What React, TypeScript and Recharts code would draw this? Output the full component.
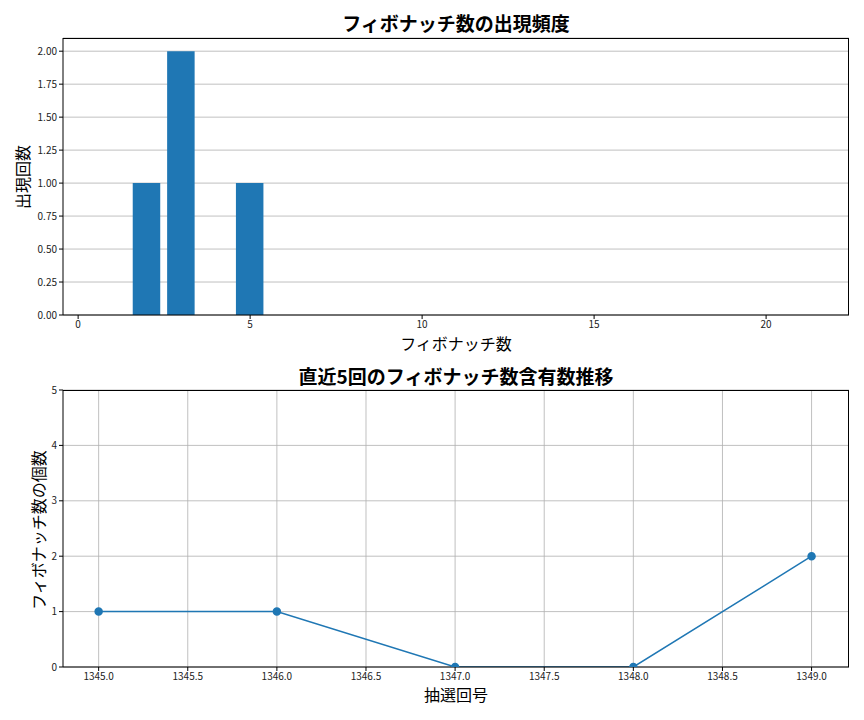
import {
  BarChart, Bar, LineChart, Line, XAxis, YAxis, CartesianGrid,
} from "recharts";

const fibNumbers = [1, 2, 3, 5, 8, 13, 21];
const fibCounts = [0, 1, 2, 1, 0, 0, 0];
const barTicksX = [0, 5, 10, 15, 20];
const barTicksY = [0, 0.25, 0.5, 0.75, 1, 1.25, 1.5, 1.75, 2];

const drawNumbers = [1345, 1346, 1347, 1348, 1349];
const fibPerDraw = [1, 1, 0, 0, 2];
const lineTicksX = [1345, 1345.5, 1346, 1346.5, 1347, 1347.5, 1348, 1348.5, 1349];
const lineTicksY = [0, 1, 2, 3, 4, 5];

const FONT = "'Noto Sans CJK JP', 'Noto Sans', sans-serif";
const BLUE = "#1f77b4";
const GRID = "#b0b0b0";

const barData = fibNumbers.map((n, i) => ({ n, count: fibCounts[i] }));
const lineData = drawNumbers.map((d, i) => ({ d, v: fibPerDraw[i] }));

const tickStyle = { fontSize: 10, fill: "#222", fontFamily: FONT };

const titleStyle = (top: number): React.CSSProperties => ({
  position: "absolute", top, left: 63, width: 786, textAlign: "center",
  fontSize: 19, fontWeight: "bold", fontFamily: FONT, lineHeight: "24px", color: "#000",
});

const labelStyle = (top: number): React.CSSProperties => ({
  position: "absolute", top, left: 63, width: 786, textAlign: "center",
  fontSize: 16, fontFamily: FONT, lineHeight: "20px", color: "#000",
});

const vLabelStyle = (cx: number, cy: number): React.CSSProperties => ({
  position: "absolute", left: cx - 100, top: cy - 11, width: 200, textAlign: "center",
  fontSize: 16, fontFamily: FONT, lineHeight: "22px", color: "#000",
  transform: "rotate(-90deg)",
});

// axes frame (matplotlib-style spines)
const frameStyle = (top: number): React.CSSProperties => ({
  position: "absolute", left: 63, top, width: 786, height: 277,
  boxSizing: "border-box", borderTop: "1px solid #000", borderRight: "1px solid #000",
  pointerEvents: "none",
});

export default function App() {
  return (
    <div style={{ position: "absolute", top: 0, left: 0, width: 864, height: 720, background: "#fff" }}>
      <div style={titleStyle(11)}>フィボナッチ数の出現頻度</div>
      <div style={{ position: "absolute", top: 0, left: 0 }}>
        <BarChart width={864} height={360} data={barData} margin={{ top: 38, right: 15, bottom: 0, left: 0 }}>
          <CartesianGrid horizontal vertical={false} stroke={GRID} strokeWidth={0.8} />
          <XAxis dataKey="n" type="number" domain={[-0.44, 22.41]} ticks={barTicksX} allowDataOverflow
            height={45} tick={tickStyle} tickSize={4} tickMargin={2} stroke="#000" />
          <YAxis type="number" domain={[0, 2.1]} ticks={barTicksY} allowDataOverflow width={63}
            tick={tickStyle} tickSize={4} tickMargin={2} stroke="#000" tickFormatter={(v: number) => v.toFixed(2)} />
          <Bar dataKey="count" fill={BLUE} barSize={27.5} isAnimationActive={false} />
        </BarChart>
      </div>
      <div style={frameStyle(38)} />
      <div style={labelStyle(333)}>フィボナッチ数</div>
      <div style={vLabelStyle(22, 177)}>出現回数</div>

      <div style={titleStyle(364)}>直近5回のフィボナッチ数含有数推移</div>
      <div style={{ position: "absolute", top: 360, left: 0 }}>
        <LineChart width={864} height={360} data={lineData} margin={{ top: 30, right: 15, bottom: 0, left: 0 }}>
          <CartesianGrid stroke={GRID} strokeWidth={0.8} verticalValues={lineTicksX} horizontalValues={lineTicksY} />
          <XAxis dataKey="d" type="number" domain={[1344.8, 1349.21]} ticks={lineTicksX} allowDataOverflow
            height={53} tick={tickStyle} tickSize={4} tickMargin={2} stroke="#000"
            tickFormatter={(v: number) => v.toFixed(1)} />
          <YAxis type="number" domain={[0, 5]} ticks={lineTicksY} allowDataOverflow width={63}
            tick={tickStyle} tickSize={4} tickMargin={2} stroke="#000" />
          <Line dataKey="v" stroke={BLUE} strokeWidth={1.5} isAnimationActive={false}
            dot={{ r: 3.5, fill: BLUE, stroke: BLUE }} />
        </LineChart>
      </div>
      <div style={frameStyle(390)} />
      <div style={labelStyle(684)}>抽選回号</div>
      <div style={vLabelStyle(38, 530)}>フィボナッチ数の個数</div>
    </div>
  );
}
